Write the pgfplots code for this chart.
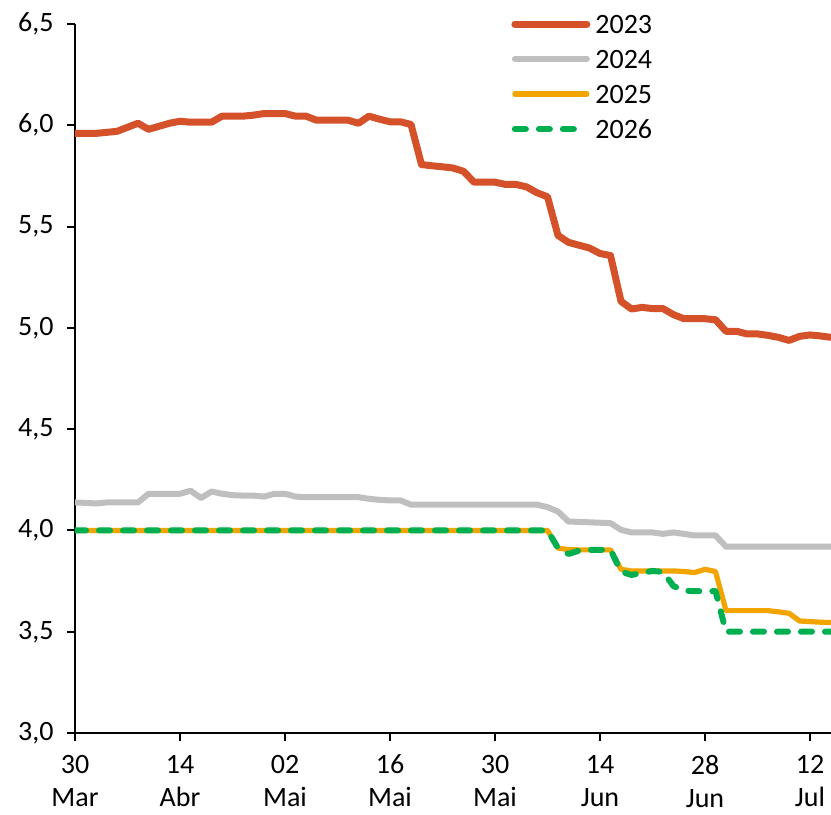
\documentclass[border=0pt]{standalone}
\usepackage{pgfplots}
\pgfplotsset{compat=1.18}
\usepackage{pgfplotstable}
\usepackage{fontspec}
\setmainfont{Carlito}
\usetikzlibrary{calc}
\definecolor{c23}{RGB}{212,81,42}
\definecolor{c24}{RGB}{191,191,191}
\definecolor{c25}{RGB}{242,165,0}
\definecolor{c26}{RGB}{0,176,80}
\pgfplotsset{
  long legend/.style={legend image code/.code={\draw[##1, line cap=round] (0pt,0pt) -- (36pt,0pt);}},
  short legend/.style={legend image code/.code={\draw[##1, line cap=round] (0pt,0pt) -- (30pt,0pt); \path (36pt,0pt);}},
}
\pgfplotstableread{
i a23 a24 a25 a26
0 5.960 4.138 4.000 4.000
1 5.960 4.136 4.000 4.000
2 5.960 4.133 4.000 4.000
3 5.965 4.138 4.000 4.000
4 5.970 4.138 4.000 4.000
5 5.990 4.138 4.000 4.000
6 6.010 4.138 4.000 4.000
7 5.980 4.181 4.000 4.000
8 5.995 4.181 4.000 4.000
9 6.010 4.181 4.000 4.000
10 6.020 4.181 4.000 4.000
11 6.015 4.196 4.000 4.000
12 6.015 4.160 4.000 4.000
13 6.015 4.192 4.000 4.000
14 6.045 4.181 4.000 4.000
15 6.045 4.174 4.000 4.000
16 6.045 4.172 4.000 4.000
17 6.050 4.172 4.000 4.000
18 6.058 4.167 4.000 4.000
19 6.058 4.181 4.000 4.000
20 6.058 4.181 4.000 4.000
21 6.045 4.167 4.000 4.000
22 6.045 4.164 4.000 4.000
23 6.025 4.164 4.000 4.000
24 6.025 4.164 4.000 4.000
25 6.025 4.164 4.000 4.000
26 6.025 4.164 4.000 4.000
27 6.010 4.164 4.000 4.000
28 6.045 4.156 4.000 4.000
29 6.030 4.151 4.000 4.000
30 6.017 4.148 4.000 4.000
31 6.017 4.148 4.000 4.000
32 6.004 4.127 4.000 4.000
33 5.806 4.127 4.000 4.000
34 5.800 4.127 4.000 4.000
35 5.795 4.127 4.000 4.000
36 5.789 4.127 4.000 4.000
37 5.773 4.127 4.000 4.000
38 5.719 4.127 4.000 4.000
39 5.719 4.127 4.000 4.000
40 5.719 4.127 4.000 4.000
41 5.708 4.127 4.000 4.000
42 5.708 4.127 4.000 4.000
43 5.696 4.127 4.000 4.000
44 5.667 4.127 4.000 4.000
45 5.647 4.115 4.000 4.000
46 5.456 4.093 3.913 3.913
47 5.422 4.044 3.905 3.884
48 5.408 4.042 3.904 3.900
49 5.394 4.040 3.904 3.904
50 5.367 4.038 3.904 3.904
51 5.357 4.036 3.904 3.904
52 5.131 4.003 3.808 3.797
53 5.093 3.990 3.800 3.780
54 5.101 3.990 3.800 3.790
55 5.095 3.990 3.800 3.800
56 5.095 3.983 3.800 3.795
57 5.065 3.990 3.800 3.725
58 5.045 3.983 3.797 3.703
59 5.045 3.975 3.792 3.700
60 5.045 3.975 3.808 3.700
61 5.040 3.975 3.797 3.700
62 4.983 3.920 3.604 3.500
63 4.983 3.920 3.604 3.500
64 4.970 3.920 3.604 3.500
65 4.970 3.920 3.604 3.500
66 4.963 3.920 3.604 3.500
67 4.953 3.920 3.598 3.500
68 4.938 3.920 3.591 3.500
69 4.958 3.920 3.553 3.500
70 4.965 3.920 3.550 3.500
71 4.960 3.920 3.547 3.500
72 4.953 3.920 3.545 3.500
}\data
\begin{document}
\begin{tikzpicture}
\begin{axis}[
  scale only axis,
  width=378pt, height=354.5pt,
  xmin=0, xmax=72, ymin=3, ymax=6.5,
  axis x line*=bottom, axis y line*=left,
  axis line style={black, line width=1pt},
  tick pos=left,
  tick align=outside,
  major tick length=4pt,
  tick style={black, line width=1pt},
  xtick={0,10,...,70},
  xticklabels={{30\\Mar},{14\\Abr},{02\\Mai},{16\\Mai},{30\\Mai},{14\\Jun},{28\\Jun},{12\\Jul}},
  x tick label style={align=center, font=\fontsize{14pt}{16.5pt}\selectfont, yshift=-3.5pt},
  ytick={3,3.5,...,6.5},
  y tick label style={font=\fontsize{14pt}{16.8pt}\selectfont, xshift=-3.2pt},
  yticklabel style={/pgf/number format/.cd, fixed, fixed zerofill, precision=1, use comma, assume math mode=true},
  legend style={at={(0.5767,1.016)}, anchor=north west, draw=none, fill=none, inner sep=0pt,
    font=\fontsize{14pt}{16.8pt}\selectfont, row sep=6.5pt, column sep=1.5pt,
    nodes={inner sep=1pt, text height=9pt, text depth=0pt}},
  legend cell align=left,
]
\addplot[c23, line width=3.5pt, line join=round, long legend] table[x=i, y=a23] {\data};
\addlegendentry{2023}
\addplot[c24, line width=3pt, line join=round, long legend] table[x=i, y=a24] {\data};
\addlegendentry{2024}
\addplot[c25, line width=2.6pt, line join=round, long legend] table[x=i, y=a25] {\data};
\addlegendentry{2025}
\addplot[c26, line width=3pt, line cap=round, line join=round, dash pattern=on 5.5pt off 6.5pt, short legend] table[x=i, y=a26] {\data};
\addlegendentry{2026}
\end{axis}
\pgfresetboundingbox
\path[use as bounding box] ($(current axis.south west)+(-37.5pt,-41pt)$) rectangle ($(current axis.north east)+(0pt,12pt)$);
\end{tikzpicture}
\end{document}
